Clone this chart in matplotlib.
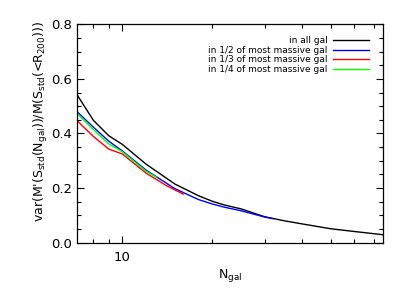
import matplotlib
matplotlib.use("Agg")
import matplotlib.pyplot as plt
from matplotlib.ticker import FixedLocator, NullFormatter, MultipleLocator, FixedFormatter

# Data
x_all = [7, 8, 9, 10, 12, 15, 18, 20, 22, 25, 30, 35, 40, 50, 60, 75]
y_all = [0.547, 0.448, 0.392, 0.360, 0.288, 0.215, 0.172, 0.152, 0.138, 0.124, 0.095, 0.080, 0.069, 0.051, 0.041, 0.029]

x_half = [7, 8, 9, 10, 12, 15, 18, 20, 22, 25, 30, 32]
y_half = [0.483, 0.423, 0.372, 0.336, 0.266, 0.198, 0.158, 0.142, 0.130, 0.117, 0.094, 0.088]

x_third = [7, 8, 9, 10, 12, 14, 16]
y_third = [0.450, 0.389, 0.343, 0.325, 0.255, 0.210, 0.178]

x_quarter = [7, 8, 9, 10, 12, 13]
y_quarter = [0.477, 0.414, 0.362, 0.333, 0.262, 0.240]

labels = ["in all gal", "in 1/2 of most massive gal",
          "in 1/3 of most massive gal", "in 1/4 of most massive gal"]
colors = ["black", "#0000ff", "#ff0000", "#00ff00"]

fig = plt.figure(figsize=(4.07, 2.91), dpi=100)
ax = fig.add_axes([0.1885, 0.166, 0.7533, 0.7505])

series = [(x_all, y_all), (x_half, y_half), (x_third, y_third), (x_quarter, y_quarter)]
for (xs, ys), lab, c in zip(series, labels, colors):
    ax.plot(xs, ys, color=c, lw=1.0, label=lab)

ax.set_xscale("log")
ax.set_xlim(7.03, 75)
ax.set_ylim(0, 0.8)

ax.xaxis.set_major_locator(FixedLocator([10]))
ax.xaxis.set_major_formatter(FixedFormatter(["10"]))
ax.xaxis.set_minor_locator(FixedLocator([8, 9, 20, 30, 40, 50, 60, 70]))
ax.xaxis.set_minor_formatter(NullFormatter())
ax.yaxis.set_major_locator(MultipleLocator(0.2))
ax.yaxis.set_minor_locator(MultipleLocator(0.05))
ax.yaxis.set_major_formatter(matplotlib.ticker.FormatStrFormatter("%.1f"))

ax.tick_params(which="both", direction="in", top=True, right=True, labelsize=9.5, width=0.8)
ax.tick_params(which="major", length=5)
ax.tick_params(which="minor", length=3)
ax.tick_params(axis="x", pad=6)
for s in ax.spines.values():
    s.set_linewidth(0.9)

ax.set_xlabel(r"N$_{\rm gal}$", fontsize=9, labelpad=2)
ax.set_ylabel(r"var(M'(S$_{\rm std}$(N$_{\rm gal}$))/M(S$_{\rm std}$(<R$_{\rm 200}$)))", fontsize=9)
ax.yaxis.set_label_coords(-0.087, 0.553)

leg = ax.legend(loc="upper right", bbox_to_anchor=(369/407, 1 - 36/291), bbox_transform=fig.transFigure,
                frameon=False, markerfirst=False, fontsize=6.5, handlelength=4.0,
                handletextpad=0.6, labelspacing=0.08, borderpad=0, borderaxespad=0)

fig.savefig("out.png", dpi=100)
